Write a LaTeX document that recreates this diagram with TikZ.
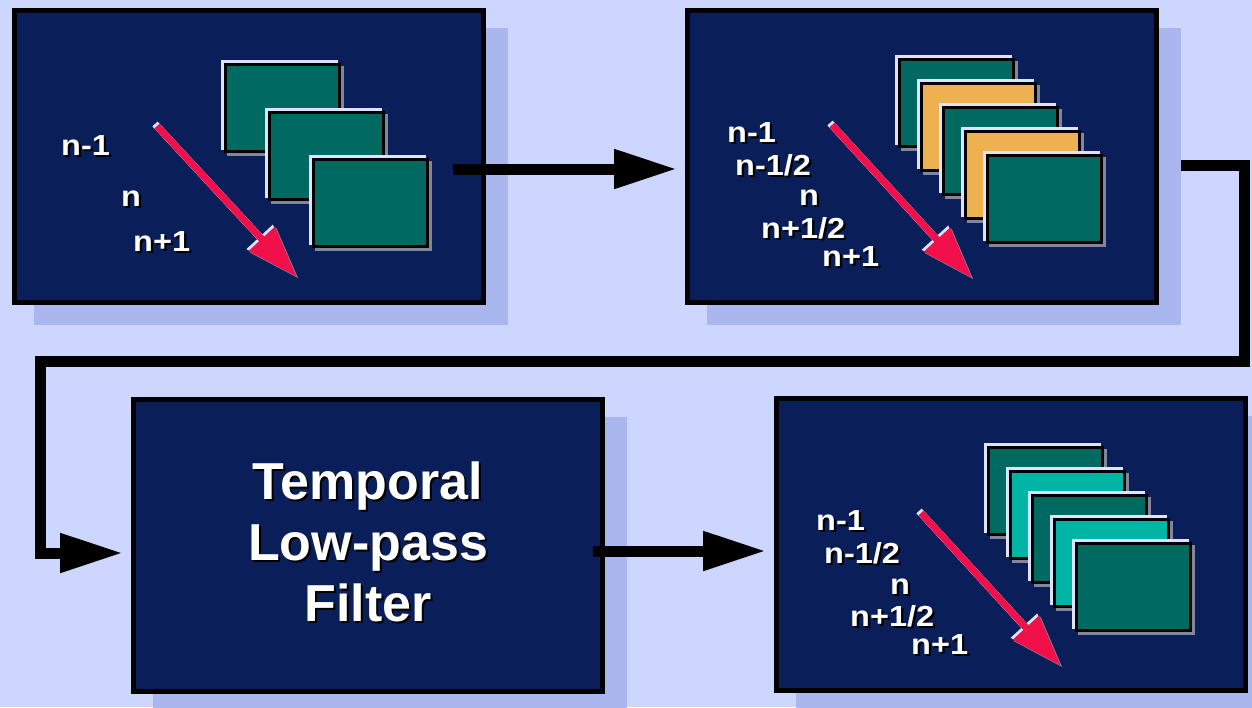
\documentclass[tikz,border=0pt]{standalone}
\usepackage{graphicx}
\usepackage{fontspec}
\setmainfont{Liberation Sans}
\usetikzlibrary{arrows.meta,shadows}

\definecolor{bgc}{HTML}{CCD6FF}
\definecolor{shadc}{HTML}{AAB6EE}
\definecolor{navyc}{HTML}{0A1E5A}
\definecolor{tealc}{HTML}{006A60}
\definecolor{orangec}{HTML}{EDB150}
\definecolor{cyanc}{HTML}{00B4A6}
\definecolor{redc}{HTML}{F2104A}
\definecolor{hlc}{HTML}{DDE3FF}
\definecolor{grayc}{HTML}{80869C}

% white text with a dark drop shadow
\newcommand{\shtext}[1]{\rlap{\kern2pt\raisebox{-2pt}[0pt][0pt]{\color{black}#1}}#1}
\newcommand{\lbltext}[1]{\scalebox{1.12}[1]{\shtext{#1}}}

\begin{document}
\begin{tikzpicture}[x=1pt,y=-1pt,
  box/.style={draw=black, line width=5pt, fill=navyc, minimum width=469pt,
    minimum height=292pt, inner sep=0pt,
    drop shadow={shadow xshift=22pt, shadow yshift=-20pt, fill=shadc, draw=shadc, opacity=1}},
  flow/.style={line width=11pt, -{Triangle[length=63pt,width=37pt]}, shorten >=8pt},
  lbl/.style={text=white, inner sep=0pt, anchor=base west,
    font=\fontsize{29}{30}\selectfont\bfseries},
  title/.style={text=white, inner sep=0pt, align=center,
    font=\fontsize{52}{61}\selectfont\bfseries},
  frhl/.style={fill=hlc},
  frsh/.style={fill=grayc},
  frm/.style={draw=black, line width=3pt},
  redarr/.style={line width=7pt, -{Triangle[length=52pt,width=34pt]}}]

  % background
  \fill[bgc] (0,0) rectangle (1252,707);
  \useasboundingbox (0,0) rectangle (1252,707);

  % boxes
  \node[box] (b1) at (249,156.5) {};
  \node[box] (b2) at (922,156.5) {};
  \node[box] (b3) at (368,545) {};
  \node[box] (b4) at (1011,544.5) {};

  % frames in box 1
  \foreach \x/\y/\c in {224/63/tealc, 268/111/tealc, 312/158/tealc}{
    \fill[frhl] (\x-3,\y-3) rectangle +(117,90);
    \fill[frsh] (\x+3,\y+3) rectangle +(117,90);
    \draw[frm, fill=\c] (\x+1.5,\y+1.5) rectangle +(114,87);
  }

  % frames in box 2 and box 4
  \foreach \x/\y/\c in {898/58/tealc, 920/82/orangec, 942/106/tealc, 964/130/orangec, 986/154/tealc,
                        987/446/tealc, 1009/470/cyanc, 1031/494/tealc, 1053/518/cyanc, 1075/542/tealc}{
    \fill[frhl] (\x-3,\y-3) rectangle +(117,90);
    \fill[frsh] (\x+3,\y+3) rectangle +(117,90);
    \draw[frm, fill=\c] (\x+1.5,\y+1.5) rectangle +(114,87);
  }

  % red time arrows
  \foreach \c/\s in {grayc/1.5, hlc/-2, redc/0}{
    \draw[redarr, draw=\c, fill=\c] (157+\s,126+\s) -- (297+\s,277+\s);
    \draw[redarr, draw=\c, fill=\c] (832+\s,125+\s) -- (972+\s,278+\s);
    \draw[redarr, draw=\c, fill=\c] (921+\s,513+\s) -- (1061+\s,666+\s);
  }

  % labels box 1
  \node[lbl] (l1a) at (61,155) {\lbltext{n-1}};
  \node[lbl] (l1b) at (121,206) {\lbltext{n}};
  \node[lbl] (l1c) at (133,251) {\lbltext{n+1}};

  % labels box 2
  \node[lbl] (l2a) at (727,142) {\lbltext{n-1}};
  \node[lbl] (l2b) at (735,175) {\lbltext{n-1/2}};
  \node[lbl] (l2c) at (799,205) {\lbltext{n}};
  \node[lbl] (l2d) at (761,238) {\lbltext{n+1/2}};
  \node[lbl] (l2e) at (822,266) {\lbltext{n+1}};

  % labels box 4
  \node[lbl] (l4a) at (816,530) {\lbltext{n-1}};
  \node[lbl] (l4b) at (824,563) {\lbltext{n-1/2}};
  \node[lbl] (l4c) at (890,594) {\lbltext{n}};
  \node[lbl] (l4d) at (850,626) {\lbltext{n+1/2}};
  \node[lbl] (l4e) at (911,654) {\lbltext{n+1}};

  % filter text
  \node[title] (ftxt) at (368,542) {\shtext{Temporal}\\\shtext{Low-pass}\\\shtext{Filter}};

  % flow arrows
  \coordinate (a1s) at (453,169);
  \coordinate (a2s) at (1181,165);
  \coordinate (a2e) at (40,553);
  \coordinate (a3s) at (593,551);
  \draw[flow] (a1s) -- (a1s -| b2.west);
  \draw[flow] (a2s) -- (1244,165) -- (1244,361) -- (40,361) -- (a2e) -- (a2e -| b3.west);
  \draw[flow] (a3s) -- (a3s -| b4.west);
\end{tikzpicture}
\end{document}
